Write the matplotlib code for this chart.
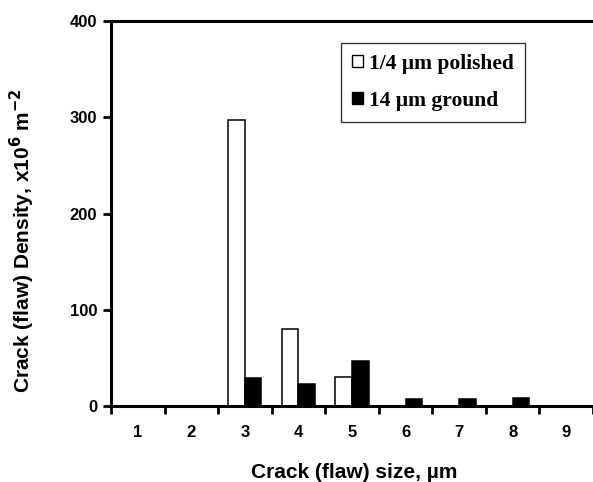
import numpy as np
import matplotlib.pyplot as plt
from matplotlib.patches import Patch

# Data
sizes = [1, 2, 3, 4, 5, 6, 7, 8, 9]
polished = [0, 0, 297, 80, 30, 0, 0, 0, 0]
ground = [0, 0, 29, 23, 47, 7, 7, 8.5, 0]
series_labels = ['1/4 \u00b5m polished', '14 \u00b5m ground']

plt.rcParams['font.family'] = 'Liberation Sans'
plt.rcParams['font.weight'] = 'bold'

fig = plt.figure(figsize=(5.93, 4.82), dpi=100)
ax = fig.add_axes([111/593, 1 - 406/482, 482/593, 385/482])

x = np.array(sizes)
w = 0.31
ax.bar(x - w/2, polished, width=w, color='white', edgecolor='black', linewidth=1.1, zorder=2)
ax.bar(x + w/2, ground, width=w, color='black', edgecolor='black', linewidth=1.1, zorder=2)

ax.set_xlim(0.5, 9.5)
ax.set_ylim(0, 400)
ax.set_yticks([0, 100, 200, 300, 400])

# tick marks between categories, labels at category centres
ax.set_xticks(np.arange(0.5, 10, 1))
ax.set_xticklabels([])
ax.set_xticks(x, minor=True)
ax.set_xticklabels([str(s) for s in sizes], minor=True)
ax.tick_params(axis='x', which='major', direction='out', length=6, width=2)
ax.tick_params(axis='x', which='minor', length=0, pad=14, labelsize=12)
ax.tick_params(axis='y', direction='out', length=6, width=2, labelsize=12, pad=4)

for s in ['left', 'bottom', 'top']:
    ax.spines[s].set_linewidth(2.2)
ax.spines['right'].set_visible(False)

ax.set_xlabel('Crack (flaw) size, \u00b5m', fontsize=15, fontweight='bold')
ax.xaxis.set_label_coords(0.505, -0.148)
ax.set_ylabel('Crack (flaw) Density, x10$^{\\mathbf{6}}$ m$^{\\mathbf{-2}}$', fontsize=15,
              fontweight='bold')
ax.yaxis.set_label_coords(-0.154, 0.43)

handles = [Patch(facecolor='white', edgecolor='black', linewidth=1),
           Patch(facecolor='black', edgecolor='black', linewidth=1)]
leg = ax.legend(handles, series_labels, loc='upper left',
                bbox_to_anchor=(341/593, 1 - 43/482), bbox_transform=fig.transFigure,
                borderaxespad=0, fancybox=False, edgecolor='#333333', framealpha=1,
                handlelength=0.5, handleheight=0.5, handletextpad=0.3,
                labelspacing=0.8, borderpad=0.5,
                prop={'family': 'Liberation Serif', 'weight': 'bold', 'size': 15.5})
leg.get_frame().set_linewidth(1)

fig.savefig('out.png', dpi=100)
